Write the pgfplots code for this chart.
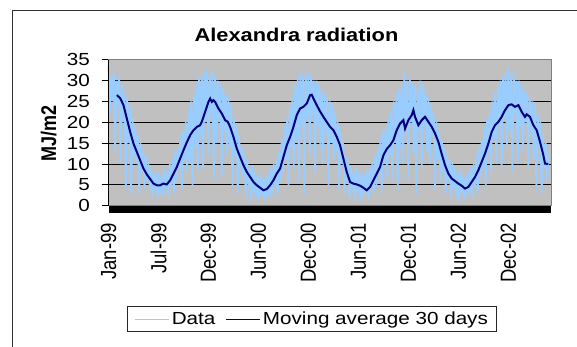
\documentclass[border=0pt]{standalone}
\usepackage{fontspec}
\setmainfont{Liberation Sans}
\usepackage{graphicx}
\usepackage{pgfplots}
\pgfplotsset{compat=1.18}
\usepackage{pgfplotstable}
\definecolor{plotbg}{HTML}{C0C0C0}
\definecolor{databl}{HTML}{99CCFF}
\definecolor{maline}{HTML}{000080}
\definecolor{bordergray}{HTML}{808080}
\definecolor{framec}{HTML}{303030}
\newcommand\sx[1]{\scalebox{1.18}[1]{#1}}
\newcommand\sy[1]{\scalebox{1}[1.18]{#1}}
\pgfplotstableread{
y
33.5
22
31
25
32
13
30
24
31
10
29
20
27
4
26
15
24
3
21
12
19
10
17
3
15
8
13
4
12
6
10
4
9
2
8
3.5
7.5
2
8
3
7
2.5
9
4
8
2
10
5
11
3
13
6
14
9
17
4
18
11
20
8
23
10
25
5
27
14
29
8
31
17
31
9
32
20
32.5
12
31
22
32
6
31
15
30
20
29
7
28
18
27
12
26
14
24
5
21
12
19
3
17
9
14
7
12
2
11
5
9
1
9.5
3
8
2
7
1.5
7.5
2.5
6.5
1
7
2
8
2
9
3
10
5
11
2.5
13
6
16
8
19
11
21
5
24
14
26
9
29
16
31
6
32
19
31
3
32
21
31.5
12
31
22
30
8
30
19
29
14
28
10
27
18
26
5
25
15
24
11
22
13
20
4
18
10
15
3
12
6
10
2
9
4
8
1.5
9
3
8
0.8
8
2
7
3
8.5
1.5
9
4
10
3
12
5
14
8
16
3
18
10
19
7
21
12
23
6
25
15
27
4
28
14
29
10
32
18
30
6
31
20
29
12
29
3
28
18
30
9
29
19
27
13
26
10
24
17
22
4
20
11
18
6
16
8
14
3
12
6
11
2
10
4
9
2
8
1
8.5
3
7
1.5
7.5
2.5
8
3
9
2
10
5
12
3
14
7
16
9
19
5
21
13
23
8
25
16
27
10
29
19
30
9
31
21
32
14
33
18
31
8
32
22
30
10
30
19
29
13
28
20
27
9
26
18
25
11
24
4
22
14
20
3
17
9
15
6
12
}\dataT
\pgfplotstableread{
x y
35 26.5
45 25.8
55 24.1
65 20.9
75 17.7
85 14.9
95 12.9
105 10.9
115 8.9
125 7.5
135 6.4
145 5.3
155 4.9
165 4.9
175 5.3
185 5.1
195 6.1
205 7.7
215 9.3
225 11.3
235 13.3
245 15.2
255 16.9
265 18.1
275 18.9
285 19.3
290 20.1
300 22.5
310 24.9
315 25.7
320 24.9
325 25.3
330 24.9
340 23.3
350 22.1
360 20.5
368 20.1
375 18.9
385 16.5
395 13.7
405 11.7
415 9.7
425 8.1
435 6.9
445 5.7
455 4.9
465 4.3
475 3.7
485 4.0
495 4.9
505 6.1
515 7.7
525 8.9
535 11.7
545 14.5
555 16.5
565 18.9
575 21.7
585 23.3
595 23.7
605 24.5
615 26.5
620 26.6
625 25.7
635 24.1
645 22.6
655 21.3
665 20.1
675 18.9
685 18.1
695 16.5
705 14.5
715 11.3
725 8.1
735 5.7
745 5.3
755 5.1
765 4.8
775 4.3
785 3.7
795 4.5
805 6.1
815 7.7
825 9.3
835 12.1
845 13.6
855 14.5
865 15.7
875 18.1
885 19.7
895 20.5
900 18.5
910 20.5
920 21.7
925 22.9
930 21.3
940 19.3
950 20.5
960 21.3
970 20.1
980 18.9
990 17.3
1000 15.3
1010 12.4
1020 9.7
1030 7.7
1040 6.5
1050 5.9
1060 5.3
1070 4.8
1080 4.1
1090 4.5
1100 5.7
1110 6.9
1120 8.5
1130 10.5
1140 12.5
1150 14.9
1160 17.7
1170 19.3
1180 20.1
1190 21.3
1200 22.9
1210 24.1
1220 24.3
1230 23.7
1240 24.1
1250 22.5
1260 21.3
1265 21.9
1275 21.3
1285 19.3
1295 18.1
1305 15.3
1315 12.1
1320 10.1
1330 10.0
}\maT
\begin{document}
\begin{tikzpicture}
\useasboundingbox (0,0) rectangle (577bp,-347bp);
\fill[white] (0,0) rectangle (577bp,-347bp);
\draw[framec, line width=1.1bp] (12.7bp,-350bp) -- (12.7bp,-10.7bp) -- (580bp,-10.7bp);
\begin{axis}[
  at={(108.5bp,-205.7bp)}, anchor=south west,
  scale only axis, width=442.5bp, height=146bp,
  xmin=10, xmax=1338, ymin=0, ymax=35,
  axis background/.style={fill=plotbg},
  axis line style={draw=bordergray, line width=0.8bp},
  ytick={0,5,10,15,20,25,30,35},
  yticklabels={\sx{0},\sx{5},\sx{10},\sx{15},\sx{20},\sx{25},\sx{30},\sx{35}},
  ytick pos=left,
  xtick pos=bottom,
  ytick align=outside,
  xtick align=inside,
  major tick length=7bp,
  ytick style={black, line width=0.8bp},
  xtick style={draw=none},
  xtick={10,160,310,460,610,760,910,1060,1210},
  xticklabels={\sy{Jan-99},\sy{Jul-99},\sy{Dec-99},\sy{Jun-00},\sy{Dec-00},\sy{Jun-01},\sy{Dec-01},\sy{Jun-02},\sy{Dec-02}},
  xticklabel style={yshift=-17.3bp, rotate=90, anchor=east, inner sep=0pt, font=\fontsize{18.5bp}{20bp}\selectfont},
  yticklabel style={anchor=east, inner sep=0pt, xshift=-11.5bp, font=\fontsize{17.5bp}{20bp}\selectfont},
  ymajorgrids,
  grid style={black, line width=0.75bp},
  clip=false,
  legend columns=2,
  legend style={at={(0.46,-0.776)}, anchor=center, draw=black!85, line width=0.9bp,
    font=\fontsize{17.5bp}{20bp}\selectfont, inner xsep=6.5bp, inner ysep=3bp,
    /tikz/every even column/.append style={column sep=8bp}},
  legend image code/.code={\draw[#1, line width=1bp] (0bp,0bp) -- (34.6bp,0bp);},
]
\addplot[databl, line width=1.8bp, line join=bevel] table[x expr=\coordindex*4+10, y=y] {\dataT};
\addlegendentry{\sx{Data}}
\addplot[maline, line width=2bp] table[x=x, y=y] {\maT};
\addlegendentry{\sx{Moving average 30 days}}
\draw[black, line width=0.8bp] (rel axis cs:0,0) -- (rel axis cs:0,1);
\fill[black] (rel axis cs:0,0) rectangle ([yshift=-7.6bp]rel axis cs:1,0);
\end{axis}
\node[anchor=base, font=\fontsize{18.5bp}{20bp}\selectfont\bfseries] at (296.5bp,-41bp) {\scalebox{1.18}[1]{Alexandra radiation}};
\node[rotate=90, anchor=base, font=\fontsize{18bp}{20bp}\selectfont\bfseries] at (56bp,-133bp) {\sy{MJ/m2}};
\end{tikzpicture}
\end{document}
